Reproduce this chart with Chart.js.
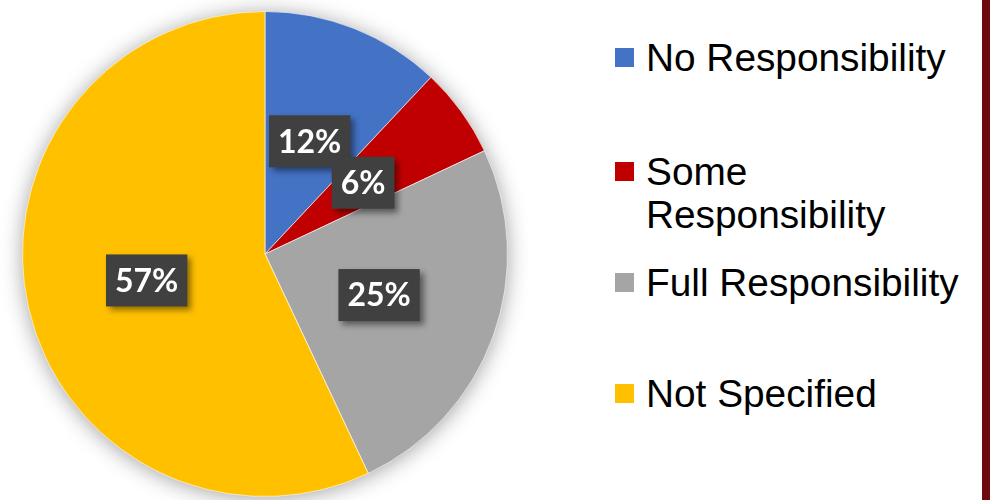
<!DOCTYPE html>
<html>
<head>
<meta charset="utf-8">
<script src="https://cdn.jsdelivr.net/npm/chart.js@4"></script>
<style>
	html, body { margin: 0; padding: 0; background: #ffffff; }
	#wrap { position: relative; width: 990px; height: 500px; overflow: hidden; background: #ffffff; }
	#pie { position: absolute; left: 0; top: 0; }
	.edge { position: absolute; left: 982px; top: 0; width: 8px; height: 500px; background: #6e0a0d; }
	.item { position: absolute; left: 615px; width: 362px; font-family: "Liberation Sans", Arial, sans-serif; font-size: 38.8px; line-height: 43px; color: #000; }
	.item .sw { position: absolute; left: 0; top: 12px; width: 19px; height: 19px; }
	.item .tx { position: absolute; left: 31px; width: 335px; }
</style>
</head>
<body>
<div id="wrap">
	<canvas id="pie" width="530" height="500"></canvas>
	<div id="legend"></div>
	<div class="edge"></div>
</div>
<script>
const categories = ['No Responsibility', 'Some Responsibility', 'Full Responsibility', 'Not Specified'];
const shares = [12, 6, 25, 57];
const sliceColors = ['#4472c4', '#c00000', '#a5a5a5', '#ffc000'];

// legend rows, top offsets
const legendTops = [36, 150, 261, 372];

const legend = document.getElementById('legend');
categories.forEach((name, i) => {
	let row = document.createElement('div');
	row.className = 'item';
	row.style.top = legendTops[i] + 'px';
	row.innerHTML = `<span class="sw" style="background:${sliceColors[i]}"></span><span class="tx">${name}</span>`;
	legend.append(row);
});

// soft glow behind the whole pie
const pieShadow = {
	id: 'pieShadow',
	beforeDatasetsDraw(chart) {
		const arc = chart.getDatasetMeta(0).data[0];
		if (!arc) return;
		const ctx = chart.ctx;
		ctx.save();
		ctx.shadowColor = 'rgba(0,0,0,0.4)';
		ctx.shadowBlur = 22;
		ctx.shadowOffsetY = 2;
		ctx.fillStyle = '#ffffff';
		ctx.beginPath();
		ctx.arc(arc.x, arc.y, arc.outerRadius - 1, 0, Math.PI * 2);
		ctx.fill();
		ctx.restore();
	}
};

// dark boxed percentage labels at the middle of each slice
const boxLabels = {
	id: 'boxLabels',
	afterDatasetsDraw(chart) {
		const ctx = chart.ctx;
		const meta = chart.getDatasetMeta(0);
		ctx.save();
		ctx.font = 'bold 32px Lato, "Open Sans", sans-serif';
		ctx.textAlign = 'center';
		ctx.textBaseline = 'middle';
		meta.data.forEach((arc, i) => {
			const pos = arc.tooltipPosition();
			const text = shares[i] + '%';
			const w = ctx.measureText(text).width + 18;
			const h = 52;
			ctx.save();
			ctx.shadowColor = 'rgba(0,0,0,0.45)';
			ctx.shadowBlur = 6;
			ctx.shadowOffsetX = 4;
			ctx.shadowOffsetY = 4;
			ctx.fillStyle = '#404040';
			ctx.fillRect(pos.x - w / 2, pos.y - h / 2, w, h);
			ctx.restore();
			ctx.fillStyle = '#ffffff';
			ctx.fillText(text, pos.x, pos.y + 1);
		});
		ctx.restore();
	}
};

new Chart(document.getElementById('pie'), {
	type: 'pie',
	data: {
		labels: categories,
		datasets: [{
			data: shares,
			backgroundColor: sliceColors,
			borderColor: 'rgba(255,255,255,0.6)',
			borderWidth: 1
		}]
	},
	options: {
		responsive: false,
		animation: false,
		layout: { padding: { top: 11, bottom: 3, left: 0, right: 0 } },
		plugins: {
			legend: { display: false },
			tooltip: { enabled: false }
		}
	},
	plugins: [pieShadow, boxLabels]
});
</script>
</body>
</html>
